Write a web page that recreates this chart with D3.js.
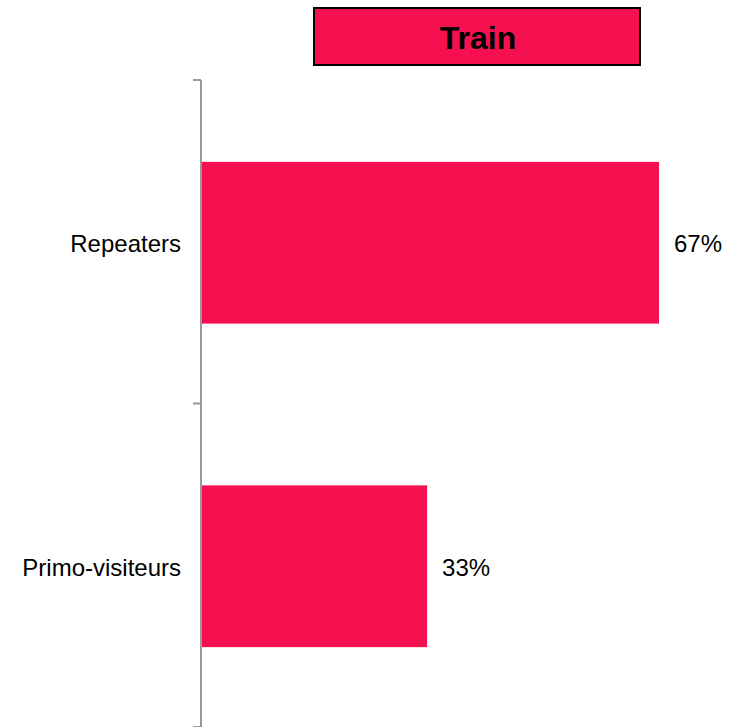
<!DOCTYPE html>
<html>
<head>
<meta charset="utf-8">
<script src="https://cdn.jsdelivr.net/npm/d3@7/dist/d3.min.js"></script>
<style>
  html, body { margin: 0; padding: 0; background: #fff; }
  svg { display: block; }
</style>
</head>
<body>
<svg id="chart" width="737" height="727"></svg>
<script>
const categories = ["Repeaters", "Primo-visiteurs"];
const values = [67, 33];
const valueLabels = ["67%", "33%"];
const seriesName = "Train";

const svg = d3.select("#chart");
const barColor = "#F5114F";
const font = "Arial, 'Liberation Sans', sans-serif";

const x = d3.scaleLinear().domain([0, 67]).range([202, 659]);
const y = d3.scaleBand().domain(categories).range([81, 728]).paddingInner(0.5).paddingOuter(0.25);

// Title box
svg.append("rect")
  .attr("x", 314).attr("y", 8).attr("width", 326).attr("height", 57)
  .attr("fill", barColor).attr("stroke", "#000").attr("stroke-width", 2);
svg.append("text")
  .attr("x", 478).attr("y", 38)
  .attr("text-anchor", "middle").attr("dominant-baseline", "central")
  .attr("font-family", font).attr("font-weight", "bold").attr("font-size", 32)
  .attr("fill", "#000").text(seriesName);

// Bars
svg.selectAll("rect.bar").data(categories).enter().append("rect")
  .attr("class", "bar")
  .attr("x", x(0))
  .attr("y", d => y(d))
  .attr("width", (d, i) => x(values[i]) - x(0))
  .attr("height", y.bandwidth())
  .attr("fill", barColor);

// Value labels
svg.selectAll("text.val").data(categories).enter().append("text")
  .attr("class", "val")
  .attr("x", (d, i) => x(values[i]) + 15)
  .attr("y", d => y(d) + y.bandwidth() / 2 + 1)
  .attr("dominant-baseline", "central")
  .attr("font-family", font).attr("font-size", 24)
  .attr("fill", "#000")
  .text((d, i) => valueLabels[i]);

// Category axis
const axisX = 201;
const axisColor = "#999";
const r = [80, 727];
svg.append("line")
  .attr("x1", axisX).attr("x2", axisX).attr("y1", r[0]).attr("y2", r[1])
  .attr("stroke", axisColor).attr("stroke-width", 2);
const tickYs = [r[0]].concat(categories.map(c => y(c) + y.bandwidth() + y.step() * y.paddingInner() / 2 - 1).slice(0, -1)).concat([r[1]]);
svg.selectAll("line.tick").data(tickYs).enter().append("line")
  .attr("class", "tick")
  .attr("x1", axisX - 8).attr("x2", axisX)
  .attr("y1", d => d).attr("y2", d => d)
  .attr("stroke", axisColor).attr("stroke-width", 2);

svg.selectAll("text.cat").data(categories).enter().append("text")
  .attr("class", "cat")
  .attr("x", 181)
  .attr("y", d => y(d) + y.bandwidth() / 2 + 1)
  .attr("text-anchor", "end").attr("dominant-baseline", "central")
  .attr("font-family", font).attr("font-size", 24)
  .attr("fill", "#000")
  .text(d => d);
</script>
</body>
</html>
